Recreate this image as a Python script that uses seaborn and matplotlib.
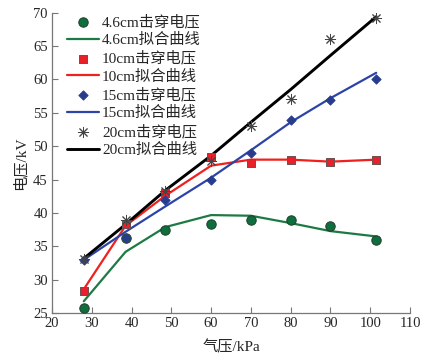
import matplotlib
matplotlib.use("Agg")
import matplotlib.pyplot as plt
import numpy as np
import pandas as pd
import seaborn as sns

# air pressure (kPa) where breakdown was measured
pressure = [28, 38.5, 48.5, 60, 70, 80, 90, 101.5]

# measured breakdown voltages (kV)
v_46 = [25.8, 36.2, 37.5, 38.4, 39.0, 39.0, 38.1, 35.9]
v_10 = [28.4, 38.3, 43.0, 48.4, 47.5, 48.0, 47.7, 48.0]
v_15 = [33.0, 36.3, 42.0, 45.0, 49.0, 54.0, 57.0, 60.0]
v_20 = [33.1, 39.0, 43.3, 47.8, 53.0, 57.1, 66.0, 69.2]

# fitted curves (kV)
fit_46 = [26.8, 34.2, 37.9, 39.7, 39.6, 38.5, 37.3, 36.5]
fit_10 = [28.6, 38.1, 42.6, 47.1, 48.0, 48.0, 47.7, 48.0]
fit_15 = [33.0, 37.2, 41.0, 45.3, 49.4, 53.6, 57.2, 61.0]
fit_20 = [33.2, 38.3, 43.4, 48.6, 53.6, 58.5, 63.6, 69.4]

gaps = ["4.6cm", "10cm", "15cm", "20cm"]
measured = [v_46, v_10, v_15, v_20]
fitted = [fit_46, fit_10, fit_15, fit_20]

sns.set_style("ticks")
plt.rcParams['font.family'] = ['Liberation Serif', 'Noto Sans CJK SC']
plt.rcParams['axes.unicode_minus'] = False

fig = plt.figure(figsize=(4.24, 3.58), dpi=100)
ax = fig.add_axes([0.1226, 0.125, 0.8444, 0.8395])

styles = [
    dict(marker='o', mfc='#0f6e3e', mec='#1f3f2a', lc='#1e7a44', s=46, lw=1.6),
    dict(marker='s', mfc='#e8202a', mec='#6a5050', lc='#f0201f', s=38, lw=1.6),
    dict(marker='D', mfc='#283c8e', mec='#283c8e', lc='#2c44a8', s=22, lw=1.6),
    dict(marker=(8, 2, 0), mfc='#444444', mec='#444444', lc='black', s=55, lw=2.1),
]

for gap, y, yf, st in zip(gaps, measured, fitted, styles):
    df = pd.DataFrame({"p": pressure, "v": y, "f": yf})
    sns.scatterplot(data=df, x="p", y="v", ax=ax, marker=st['marker'], s=st['s'],
                    color=st['mfc'], edgecolor=st['mec'], linewidth=0.7,
                    label=f"{gap}击穿电压", zorder=4)
    sns.lineplot(data=df, x="p", y="f", ax=ax, color=st['lc'], linewidth=st['lw'],
                 label=f"{gap}拟合曲线", zorder=3)

ax.set_xlim(20, 110)
ax.set_ylim(25, 70)
ax.set_xticks(np.arange(20, 111, 10))
ax.set_yticks(np.arange(25, 71, 5))
ax.tick_params(direction='in', length=4, width=0.8, color='#777777',
               labelsize=10.5, pad=3)
for side in ['top', 'right']:
    ax.spines[side].set_visible(False)
for side in ['left', 'bottom']:
    ax.spines[side].set_color('#777777')
    ax.spines[side].set_linewidth(0.9)

ax.set_xlabel("气压/kPa", fontsize=11, labelpad=7)
ax.set_ylabel("电压/kV", fontsize=11, labelpad=4)

ax.legend(loc='upper left', bbox_to_anchor=(0.02, 1.02), frameon=False,
          fontsize=11, handlelength=2.1, handletextpad=0.2,
          labelspacing=0.26, borderaxespad=0.1)

fig.savefig("out.png", dpi=100)
